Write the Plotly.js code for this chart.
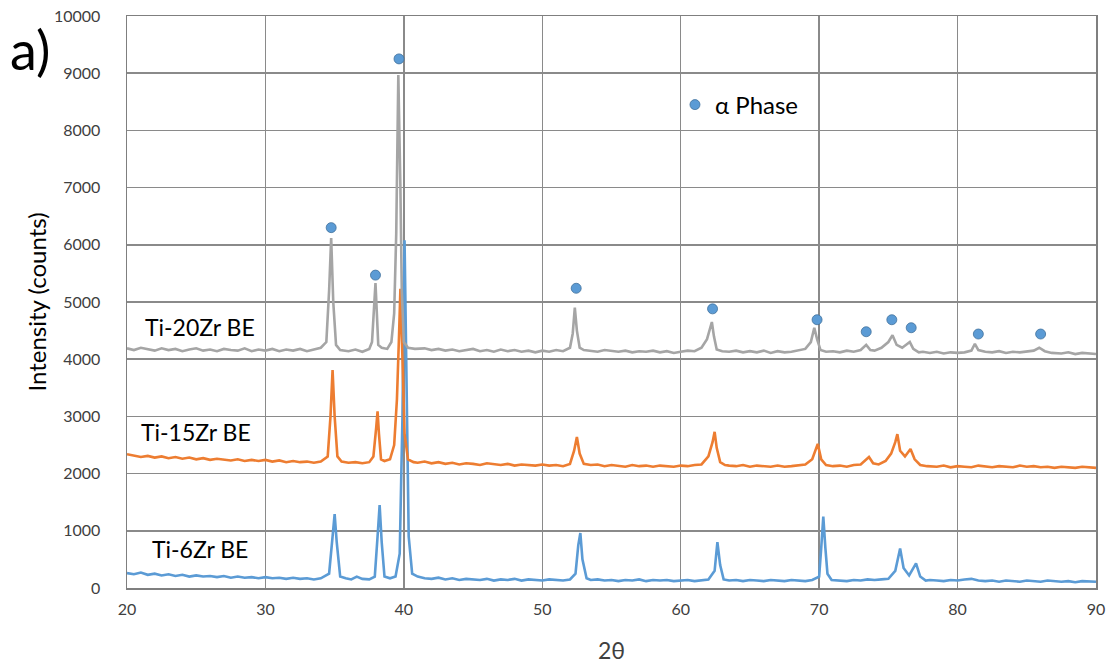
<!DOCTYPE html>
<html>
<head>
<meta charset="utf-8">
<script src="https://cdn.plot.ly/plotly-3.0.1.min.js"></script>
<style>html,body{margin:0;padding:0;background:#fff;}#chart{width:1114px;height:666px;}</style>
</head>
<body>
<div id="chart"></div>
<script>
// Ti-20Zr BE (grey)
const x20 = [20,20.5,21,21.5,22,22.5,23,23.5,24,24.5,25,25.5,26,26.5,27,27.5,28,28.5,29,29.5,30,30.5,31,31.5,32,32.5,33,33.5,34,34.4,34.6,34.75,34.9,35.1,35.4,36,36.5,37,37.5,37.7,37.85,37.95,38.05,38.15,38.4,38.8,39.1,39.3,39.45,39.6,39.75,39.85,40.0,40.3,40.8,41.5,42,42.5,43,43.5,44,44.5,45,45.5,46,46.5,47,47.5,48,48.5,49,49.5,50,50.5,51,51.5,52,52.2,52.35,52.5,52.7,53,53.5,54,54.5,55,55.5,56,56.5,57,57.5,58,58.5,59,59.5,60,60.5,61,61.5,61.9,62.1,62.25,62.4,62.6,63,63.5,64,64.5,65,65.5,66,66.5,67,67.5,68,68.5,69,69.4,69.65,69.85,70.1,70.5,71,71.5,72,72.5,73,73.4,73.7,74,74.5,75,75.3,75.6,76,76.55,76.8,77.2,77.5,78,78.5,79,79.5,80,80.5,81,81.25,81.5,82,82.5,83,83.5,84,84.5,85,85.5,85.9,86.3,86.8,87.5,88,88.5,89,89.5,90];
const y20 = [4190,4160,4200,4170,4150,4190,4160,4180,4140,4170,4190,4150,4170,4140,4180,4160,4150,4190,4140,4170,4150,4180,4140,4170,4150,4180,4140,4170,4200,4300,5200,6120,5000,4250,4160,4140,4170,4130,4180,4300,5000,5330,4800,4250,4200,4180,4300,4800,6200,8970,7000,5200,4300,4200,4180,4190,4160,4180,4150,4170,4140,4160,4180,4140,4160,4130,4170,4140,4160,4130,4150,4120,4150,4130,4160,4140,4200,4450,4900,4500,4200,4160,4150,4130,4160,4140,4130,4150,4120,4140,4130,4150,4120,4140,4110,4130,4150,4140,4200,4350,4500,4650,4400,4170,4140,4130,4150,4120,4140,4120,4150,4110,4140,4120,4130,4150,4180,4300,4550,4350,4160,4130,4140,4120,4150,4130,4160,4250,4160,4150,4200,4300,4420,4250,4200,4300,4180,4120,4130,4110,4130,4100,4120,4110,4120,4150,4270,4160,4130,4120,4140,4110,4130,4120,4140,4150,4200,4140,4110,4100,4120,4090,4110,4100,4090];

// Ti-15Zr BE (orange)
const x15 = [20,20.5,21,21.5,22,22.5,23,23.5,24,24.5,25,25.5,26,26.5,27,27.5,28,28.5,29,29.5,30,30.5,31,31.5,32,32.5,33,33.5,34,34.5,34.7,34.85,35.0,35.2,35.5,36,36.5,37,37.5,37.8,38.0,38.1,38.2,38.35,38.6,39.0,39.3,39.5,39.65,39.75,39.9,40.05,40.3,40.7,41,41.5,42,42.5,43,43.5,44,44.5,45,45.5,46,46.5,47,47.5,48,48.5,49,49.5,50,50.5,51,51.5,52,52.3,52.5,52.7,53,53.5,54,54.5,55,55.5,56,56.5,57,57.5,58,58.5,59,59.5,60,60.5,61,61.5,62,62.3,62.45,62.6,62.85,63.2,63.5,64,64.5,65,65.5,66,66.5,67,67.5,68,68.5,69,69.5,69.9,70.15,70.5,71,71.5,72,72.5,73,73.6,73.9,74.3,74.8,75.2,75.5,75.65,75.85,76.2,76.6,76.9,77.3,77.8,78.5,79,79.5,80,80.5,81,81.5,82,82.5,83,83.5,84,84.5,85,85.5,86,86.5,87,87.5,88,88.5,89,89.5,90];
const y15 = [2340,2320,2290,2310,2280,2300,2270,2290,2260,2280,2250,2270,2240,2260,2240,2230,2250,2220,2240,2220,2240,2210,2230,2200,2220,2200,2210,2190,2210,2300,3000,3810,3000,2300,2210,2190,2200,2180,2200,2300,2800,3090,2700,2250,2220,2250,2500,3300,4400,5230,4000,2700,2250,2200,2190,2210,2180,2200,2170,2190,2160,2180,2170,2150,2180,2160,2150,2170,2140,2160,2150,2140,2160,2140,2150,2130,2170,2400,2640,2350,2170,2150,2160,2130,2150,2140,2120,2150,2130,2140,2120,2140,2130,2120,2140,2130,2150,2160,2300,2550,2730,2450,2200,2150,2140,2130,2150,2120,2140,2130,2120,2140,2120,2130,2150,2160,2250,2520,2250,2150,2130,2140,2120,2150,2160,2290,2180,2160,2220,2350,2550,2690,2400,2300,2430,2250,2150,2130,2120,2140,2110,2130,2120,2110,2140,2120,2110,2130,2120,2110,2140,2120,2130,2110,2120,2100,2120,2110,2100,2120,2110,2100];

// Ti-6Zr BE (blue)
const x6 = [20,20.5,21,21.5,22,22.5,23,23.5,24,24.5,25,25.5,26,26.5,27,27.5,28,28.5,29,29.5,30,30.5,31,31.5,32,32.5,33,33.5,34,34.6,34.85,35.0,35.15,35.4,35.8,36.2,36.6,37,37.5,37.9,38.1,38.25,38.4,38.6,39,39.4,39.7,39.9,40.05,40.2,40.35,40.6,41,41.5,42,42.5,43,43.5,44,44.5,45,45.5,46,46.5,47,47.5,48,48.5,49,49.5,50,50.5,51,51.5,52,52.4,52.6,52.75,52.9,53.2,53.5,54,54.5,55,55.5,56,56.5,57,57.5,58,58.5,59,59.5,60,60.5,61,61.5,62,62.45,62.65,62.85,63.1,63.5,64,64.5,65,65.5,66,66.5,67,67.5,68,68.5,69,69.5,70,70.15,70.3,70.45,70.6,70.9,71.5,72,72.5,73,73.5,74,74.5,75,75.5,75.85,76.1,76.5,77.0,77.3,77.7,78,78.5,79,79.5,80,80.5,81,81.5,82,82.5,83,83.5,84,84.5,85,85.5,86,86.5,87,87.5,88,88.5,89,89.5,90];
const y6 = [260,240,270,230,250,220,240,210,230,200,220,200,210,190,210,180,200,180,190,170,190,170,180,160,180,160,170,150,170,250,900,1290,800,200,170,150,200,160,150,200,900,1450,800,200,170,200,600,3000,6080,3500,900,250,200,170,160,180,150,170,140,160,150,140,160,130,150,140,160,130,150,140,130,150,140,130,150,250,750,960,500,170,140,150,130,140,120,140,130,150,120,140,130,140,120,130,140,120,140,150,300,800,400,150,130,140,120,140,130,120,140,130,120,140,130,120,140,200,700,1250,700,250,140,130,120,140,130,150,140,150,160,300,690,350,220,430,200,130,140,130,120,140,130,150,160,130,120,130,110,130,120,110,130,120,110,130,120,110,120,100,120,110,110];

// alpha phase markers
const alphaX = [34.75,37.95,39.65,52.45,62.3,69.85,73.4,75.25,76.65,81.5,86.0];
const alphaY = [6300,5470,9250,5240,4880,4690,4480,4690,4550,4440,4440];

const seriesLabels = ['Ti-20Zr BE','Ti-15Zr BE','Ti-6Zr BE'];
const labelX = [25.3, 25.0, 25.3];
const labelY = [4560, 2730, 680];

const FONT = 'Lato, "Open Sans", sans-serif';

const traces = [
  {x:x6, y:y6, mode:'lines', line:{color:'#5b9bd5', width:2.6}, showlegend:false, hoverinfo:'skip'},
  {x:x15, y:y15, mode:'lines', line:{color:'#ed7d31', width:2.6}, showlegend:false, hoverinfo:'skip'},
  {x:x20, y:y20, mode:'lines', line:{color:'#a5a5a5', width:2.6}, showlegend:false, hoverinfo:'skip'},
  {x:alphaX, y:alphaY, mode:'markers', name:'α Phase',
   marker:{symbol:'circle', size:10, color:'#5b9bd5', line:{color:'#41719c', width:0.8}}}
];

const annotations = seriesLabels.map((t,i)=>({
  x:labelX[i], y:labelY[i], xref:'x', yref:'y', text:t, showarrow:false,
  xanchor:'center', yanchor:'middle', font:{family:FONT, size:23, color:'#000'}
}));
annotations.push({x:-0.123, y:0.942, xref:'paper', yref:'paper', text:'a)', showarrow:false,
  xanchor:'left', yanchor:'middle', font:{family:FONT, size:54, color:'#000'}});

const layout = {
  width:1114, height:666,
  margin:{l:127, r:18, t:16, b:78},
  paper_bgcolor:'#fff', plot_bgcolor:'#fff',
  showlegend:true,
  legend:{x:0.5655, y:0.8444, xanchor:'left', yanchor:'middle', bgcolor:'rgba(255,255,255,0)',
    font:{family:FONT, size:24, color:'#000'}},
  xaxis:{range:[20,90], dtick:10, tick0:20, showgrid:true, gridcolor:'#8a8a8a', gridwidth:1.5,
    showline:true, linecolor:'#7f7f7f', linewidth:1.5, mirror:true, zeroline:false, ticks:'',
    ticklabelstandoff:6,
    tickfont:{family:FONT, size:16, color:'#404040'},
    title:{text:'2θ', font:{family:FONT, size:23, color:'#404040'}, standoff:26}},
  yaxis:{range:[0,10000], dtick:1000, tick0:0, tickformat:'d', showgrid:true, gridcolor:'#8a8a8a', gridwidth:1.5,
    showline:true, linecolor:'#7f7f7f', linewidth:1.5, mirror:true, zeroline:false, ticks:'',
    ticklabelstandoff:22,
    tickfont:{family:FONT, size:16, color:'#404040'},
    title:{text:'Intensity (counts)', font:{family:FONT, size:24, color:'#000'}, standoff:0}},
  annotations:annotations
};

Plotly.newPlot('chart', traces, layout, {staticPlot:true, displayModeBar:false});
</script>
</body>
</html>
